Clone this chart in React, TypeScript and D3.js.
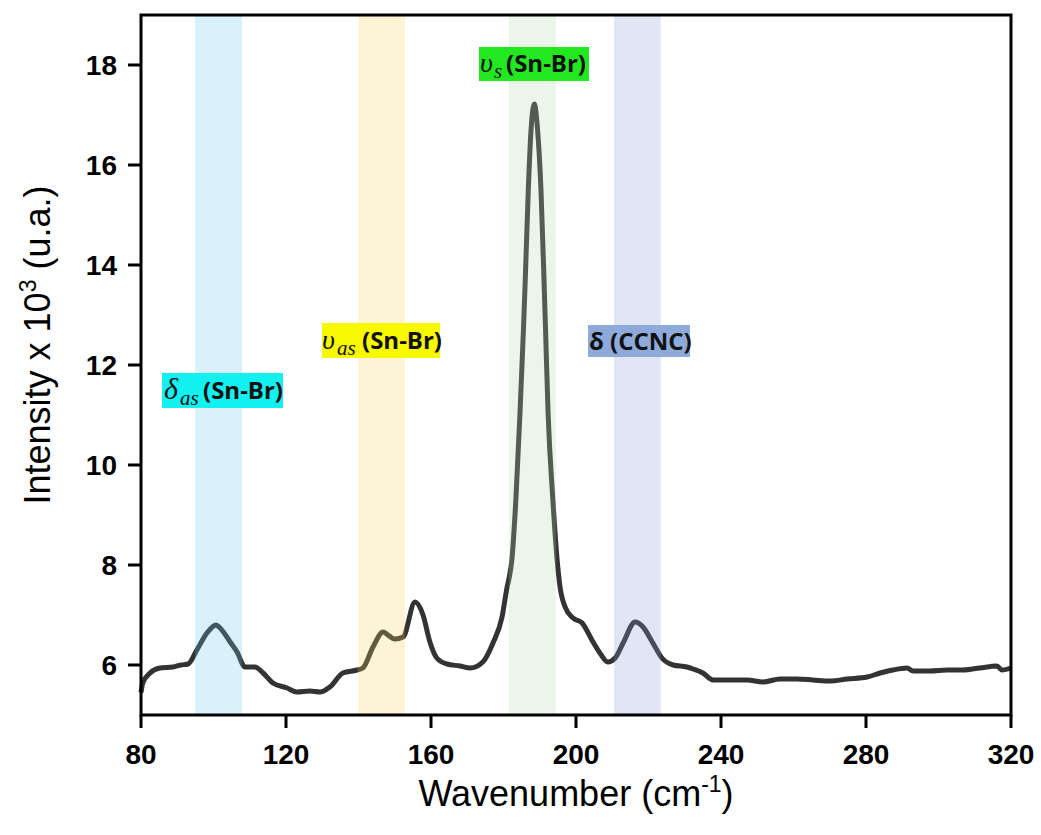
import React from "react";
import * as d3 from "d3";

const wavenumber = [
  80, 80.5, 82.5, 85.2, 88.8, 91, 93, 95.4, 98.2, 100.7, 101.8, 104.6, 106.5, 108.7, 111.4, 113.7, 116.4,
  120.3, 123, 126.6, 129.4, 132.1, 135.7, 139.6, 141.2, 144, 146.8, 148.5, 150, 152.3, 155.6, 157.8,
  159.7, 161.6, 164.4, 168, 170.8, 174.3, 177.1, 179.6, 181, 181.6, 182.3, 183.45, 184.55, 185.5, 186.0,
  186.84, 187.6, 188.5, 189.4, 190.34, 191.26, 191.6, 192.3, 193.57, 194.8, 195.6, 197, 199.2, 201.7,
  204.4, 206.6, 208.8, 210.8, 213, 216.3, 218.5, 221.2, 223.7, 226.8, 230.6, 232.3, 235, 237.8, 242.5,
  247.2, 251.6, 256.3, 261, 265.4, 270.1, 274.8, 280.3, 283.9, 287.4, 291.3, 293, 297.7, 302.3, 306.8,
  311.4, 316.1, 317.5, 320,
];
const intensity = [
  5.45, 5.64, 5.84, 5.94, 5.96, 6.0, 6.02, 6.3, 6.64, 6.8, 6.74, 6.46, 6.26, 5.96, 5.96, 5.84, 5.64,
  5.54, 5.46, 5.48, 5.46, 5.56, 5.84, 5.9, 5.94, 6.36, 6.66, 6.58, 6.52, 6.56, 7.26, 7.0,
  6.46, 6.14, 6.02, 5.98, 5.94, 6.06, 6.44, 6.96, 7.56, 7.76, 8.1, 9.36, 11.04, 12.7, 13.7,
  15.5, 16.7, 17.22, 16.7, 15.5, 13.5, 12.7, 11.04, 9.36, 8.1, 7.56, 7.16, 6.94, 6.84,
  6.5, 6.24, 6.06, 6.14, 6.44, 6.86, 6.76, 6.44, 6.14, 6.0, 5.96, 5.92, 5.84, 5.7, 5.7,
  5.7, 5.66, 5.72, 5.72, 5.7, 5.68, 5.72, 5.76, 5.84, 5.9, 5.94, 5.88, 5.88, 5.9, 5.9,
  5.94, 5.98, 5.9, 5.94,
];

const xTicks = [80, 120, 160, 200, 240, 280, 320];
const yTicks = [6, 8, 10, 12, 14, 16, 18];

const bandStart = [94.9, 139.9, 181.5, 210.5];
const bandEnd = [107.9, 152.8, 194.5, 223.4];
const bandColors = ["#63c7ef", "#f7cf5b", "#afd7a7", "#839bd3"];

const W = 1041;
const H = 835;
const M = { left: 141, right: 1011, top: 15, bottom: 715 };

export default function App() {
  const x = d3.scaleLinear().domain([80, 320]).range([M.left, M.right]);
  const y = d3.scaleLinear().domain([5, 19]).range([M.bottom, M.top]);
  const pts = wavenumber.map((w, i) => [w, intensity[i]] as [number, number]);
  const line = d3
    .line<[number, number]>()
    .x((d) => x(d[0]))
    .y((d) => y(d[1]))
    .curve(d3.curveMonotoneX);

  const sans = "'Liberation Sans', Arial, sans-serif";
  const lab = "'Open Sans', sans-serif";
  const greek = "'Liberation Serif', 'DejaVu Serif', serif";

  return (
    <div style={{ position: "absolute", left: 0, top: 0 }}>
      <svg width={W} height={H} xmlns="http://www.w3.org/2000/svg" style={{ display: "block", background: "#fff" }}>
        <rect x={0} y={0} width={W} height={H} fill="#fff" />
        <path d={line(pts) || ""} fill="none" stroke="#333" strokeWidth={5} strokeLinejoin="round" />
        {bandStart.map((b, i) => (
          <rect
            key={i}
            x={x(b)}
            y={M.top}
            width={x(bandEnd[i]) - x(b)}
            height={M.bottom - M.top}
            fill={bandColors[i]}
            fillOpacity={0.25}
          />
        ))}
        <rect x={M.left} y={M.top} width={M.right - M.left} height={M.bottom - M.top} fill="none" stroke="#000" strokeWidth={3} />
        {xTicks.map((t) => (
          <g key={t}>
            <line x1={x(t)} x2={x(t)} y1={M.bottom} y2={M.bottom + 13} stroke="#000" strokeWidth={3} />
            <text x={x(t)} y={764} textAnchor="middle" fontFamily={sans} fontWeight="bold" fontSize={28} fill="#000">
              {t}
            </text>
          </g>
        ))}
        {yTicks.map((t) => (
          <g key={t}>
            <line x1={M.left - 13} x2={M.left} y1={y(t)} y2={y(t)} stroke="#000" strokeWidth={3} />
            <text x={117} y={y(t) + 10} textAnchor="end" fontFamily={sans} fontWeight="bold" fontSize={28} fill="#000">
              {t}
            </text>
          </g>
        ))}
        <text x={576} y={806} textAnchor="middle" fontFamily={sans} fontSize={36} fill="#000">
          Wavenumber (cm<tspan dy={-14} fontSize={23}>-1</tspan>
          <tspan dy={14}>)</tspan>
        </text>
        <text transform="translate(50,345) rotate(-90)" textAnchor="middle" fontFamily={sans} fontSize={36} fill="#000">
          Intensity x 10<tspan dy={-14} fontSize={23}>3</tspan>
          <tspan dy={14}> (u.a.)</tspan>
        </text>

        <rect x={162} y={373} width={121} height={35} fill="#12f0f0" />
        <text x={164} y={399} fontFamily={greek} fontStyle="italic" fontSize={30} fill="#111">δ</text>
        <text x={180} y={405} fontFamily={greek} fontStyle="italic" fontSize={21} fill="#111">as</text>
        <text x={203} y={399} fontFamily={lab} fontWeight="bold" fontSize={24} fill="#111">(Sn-Br)</text>

        <rect x={322} y={323} width={118} height={35} fill="#f8f800" />
        <text x={322} y={349} fontFamily={greek} fontStyle="italic" fontSize={28} fill="#111">υ</text>
        <text x={337} y={355} fontFamily={greek} fontStyle="italic" fontSize={21} fill="#111">as</text>
        <text x={362} y={349} fontFamily={lab} fontWeight="bold" fontSize={24} fill="#111">(Sn-Br)</text>

        <rect x={479} y={47} width={110} height={34} fill="#22e822" />
        <text x={480} y={72} fontFamily={greek} fontStyle="italic" fontSize={28} fill="#111">υ</text>
        <text x={494} y={78} fontFamily={greek} fontStyle="italic" fontSize={21} fill="#111">s</text>
        <text x={506} y={72} fontFamily={lab} fontWeight="bold" fontSize={24} fill="#111">(Sn-Br)</text>

        <rect x={588} y={325} width={102} height={32} fill="#8eaadb" />
        <text x={589} y={350} fontFamily={lab} fontWeight="bold" fontSize={24} fill="#111">δ (CCNC)</text>
      </svg>
    </div>
  );
}
